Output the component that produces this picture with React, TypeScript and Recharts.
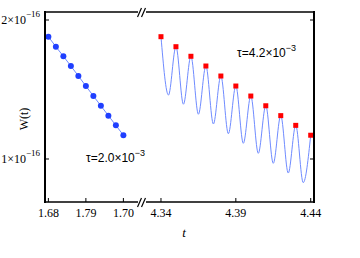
import { LineChart, Line, XAxis, YAxis } from "recharts";

// W(t) in units of 1e-16
const T_SHORT = [1.68, 1.682, 1.684, 1.686, 1.688, 1.69, 1.692, 1.694, 1.696, 1.698, 1.7];
const W_SHORT = [1.88, 1.808, 1.739, 1.669, 1.597, 1.525, 1.453, 1.383, 1.312, 1.242, 1.171];

const T_PEAK = [4.34, 4.35, 4.36, 4.37, 4.38, 4.39, 4.4, 4.41, 4.42, 4.43, 4.44];
const W_PEAK = [1.88, 1.808, 1.739, 1.669, 1.597, 1.525, 1.453, 1.383, 1.312, 1.242, 1.171];
const T_TROUGH = [4.345, 4.355, 4.365, 4.375, 4.385, 4.395, 4.405, 4.415, 4.425, 4.435];
const W_TROUGH = [1.46, 1.394, 1.322, 1.252, 1.182, 1.113, 1.041, 0.969, 0.899, 0.83];

const LEFT_TICKS = [1.68, 1.69, 1.7];
const LEFT_TICK_LABELS = ["1.68", "1.79", "1.70"];
const RIGHT_TICKS = [4.34, 4.39, 4.44];
const RIGHT_TICK_LABELS = ["4.34", "4.39", "4.44"];
const Y_TICKS = [1, 2];
const Y_TICK_LABELS = ["1", "2"];

const shortData = T_SHORT.map((t, i) => ({ t, w: W_SHORT[i] }));
const peakData = T_PEAK.map((t, i) => ({ t, w: W_PEAK[i] }));
const curveData = T_PEAK.flatMap((t, i) =>
  i < T_TROUGH.length
    ? [{ t, w: W_PEAK[i] }, { t: T_TROUGH[i], w: W_TROUGH[i] }]
    : [{ t, w: W_PEAK[i] }]
);

const Y_DOMAIN: [number, number] = [0.6906, 2.0576];
const LEFT_DOMAIN: [number, number] = [1.6791, 1.7039];
const RIGHT_DOMAIN: [number, number] = [4.33, 4.4422];

const SERIF = "'Liberation Serif', 'Times New Roman', serif";
const SANS = "'Liberation Sans', Arial, sans-serif";
const AXIS = { stroke: "#000", strokeWidth: 1.5 };

const bottomTick = (labels: string[], ticks: number[]) => (props: any) => {
  const { x, y, payload } = props;
  const idx = ticks.indexOf(payload.value);
  return (
    <g>
      <line x1={x} x2={x} y1={y} y2={y - 4} stroke="#000" strokeWidth={1} />
      <text x={x} y={y + 15} textAnchor="middle" fontFamily={SERIF} fontSize={12} fill="#000">
        {labels[idx]}
      </text>
    </g>
  );
};

const topTick = (props: any) => (
  <line x1={props.x} x2={props.x} y1={props.y} y2={props.y + 4} stroke="#000" strokeWidth={1} />
);

const leftYTick = (props: any) => {
  const { x, y, payload } = props;
  const idx = Y_TICKS.indexOf(payload.value);
  return (
    <g>
      <line x1={x + 5} x2={x + 9} y1={y} y2={y} stroke="#000" strokeWidth={1} />
      <text x={x} y={y + 4} textAnchor="end" fontFamily={SERIF} fontSize={12} fill="#000">
        {Y_TICK_LABELS[idx]}×10
        <tspan dy={-7} fontSize={9}>−16</tspan>
      </text>
    </g>
  );
};

const rightYTick = (props: any) => (
  <line x1={props.x} x2={props.x - 4} y1={props.y} y2={props.y} stroke="#000" strokeWidth={1} />
);

const RedSquare = (props: any) => {
  const { cx, cy } = props;
  if (cx == null || cy == null) return null;
  return <rect key={`sq-${cx}`} x={cx - 2.5} y={cy - 2.5} width={5} height={5} fill="#ff0000" />;
};

export default function App() {
  return (
    <div style={{ position: "fixed", left: 0, top: 0, width: 360, height: 258, background: "#fff" }}>
      <div style={{ position: "absolute", left: 0, top: 0 }}>
        <LineChart width={138} height={258} margin={{ top: 11, right: 0, bottom: 26, left: 0 }}>
          <XAxis
            dataKey="t"
            type="number"
            domain={LEFT_DOMAIN}
            allowDataOverflow
            ticks={LEFT_TICKS}
            height={30}
            axisLine={AXIS}
            tickLine={false}
            tickSize={0}
            tickMargin={0}
            tick={bottomTick(LEFT_TICK_LABELS, LEFT_TICKS)}
          />
          <XAxis
            xAxisId="top"
            orientation="top"
            type="number"
            domain={LEFT_DOMAIN}
            allowDataOverflow
            ticks={LEFT_TICKS}
            height={1}
            axisLine={AXIS}
            tickLine={false}
            tickSize={0}
            tickMargin={0}
            tick={topTick}
          />
          <YAxis
            type="number"
            domain={Y_DOMAIN}
            allowDataOverflow
            ticks={Y_TICKS}
            width={45}
            axisLine={AXIS}
            tickLine={false}
            tickSize={0}
            tickMargin={5}
            tick={leftYTick}
          />
          <Line
            data={shortData}
            dataKey="w"
            type="linear"
            stroke="#6f8bff"
            strokeWidth={1}
            dot={{ r: 3, fill: "#1f3fff", stroke: "none" }}
            isAnimationActive={false}
          />
        </LineChart>
      </div>
      <div style={{ position: "absolute", left: 146, top: 0 }}>
        <LineChart width={214} height={258} margin={{ top: 11, right: 0, bottom: 26, left: 0 }}>
          <XAxis
            dataKey="t"
            type="number"
            domain={RIGHT_DOMAIN}
            allowDataOverflow
            ticks={RIGHT_TICKS}
            height={30}
            axisLine={AXIS}
            tickLine={false}
            tickSize={0}
            tickMargin={0}
            tick={bottomTick(RIGHT_TICK_LABELS, RIGHT_TICKS)}
          />
          <XAxis
            xAxisId="top"
            orientation="top"
            type="number"
            domain={RIGHT_DOMAIN}
            allowDataOverflow
            ticks={RIGHT_TICKS}
            height={1}
            axisLine={AXIS}
            tickLine={false}
            tickSize={0}
            tickMargin={0}
            tick={topTick}
          />
          <YAxis
            orientation="right"
            type="number"
            domain={Y_DOMAIN}
            allowDataOverflow
            ticks={Y_TICKS}
            width={46}
            axisLine={AXIS}
            tickLine={false}
            tickSize={0}
            tickMargin={0}
            tick={rightYTick}
          />
          <Line
            data={curveData}
            dataKey="w"
            type="monotone"
            stroke="#6f8bff"
            strokeWidth={1}
            dot={false}
            isAnimationActive={false}
          />
          <Line
            data={peakData}
            dataKey="w"
            stroke="none"
            dot={RedSquare}
            isAnimationActive={false}
          />
        </LineChart>
      </div>
      <svg
        width={360}
        height={258}
        style={{ position: "absolute", left: 0, top: 0, pointerEvents: "none" }}
      >
        {/* frame sides (solid bars) and axis-break marks */}
        <rect x={44} y={11} width={2} height={192} fill="#000" />
        <rect x={313} y={11} width={2} height={192} fill="#000" />
        <g stroke="#000" strokeWidth={1.2}>
          <line x1={137.5} y1={17} x2={141.5} y2={8} />
          <line x1={141.5} y1={17} x2={145.5} y2={8} />
          <line x1={137.5} y1={207} x2={141.5} y2={198} />
          <line x1={141.5} y1={207} x2={145.5} y2={198} />
        </g>
        <text
          transform="translate(28,119) rotate(-90)"
          textAnchor="middle"
          fontFamily={SERIF}
          fontSize={12}
          fill="#000"
        >
          W(t)
        </text>
        <text x={184} y={237} textAnchor="middle" fontFamily={SERIF} fontStyle="italic" fontSize={13} fill="#000">
          t
        </text>
        <text x={86} y={162} fontFamily={SANS} fontSize={12} fill="#000">
          τ=2.0×10<tspan dy={-6} fontSize={9}>−3</tspan>
        </text>
        <text x={237} y={57} fontFamily={SANS} fontSize={12} fill="#000">
          τ=4.2×10<tspan dy={-6} fontSize={9}>−3</tspan>
        </text>
      </svg>
    </div>
  );
}
